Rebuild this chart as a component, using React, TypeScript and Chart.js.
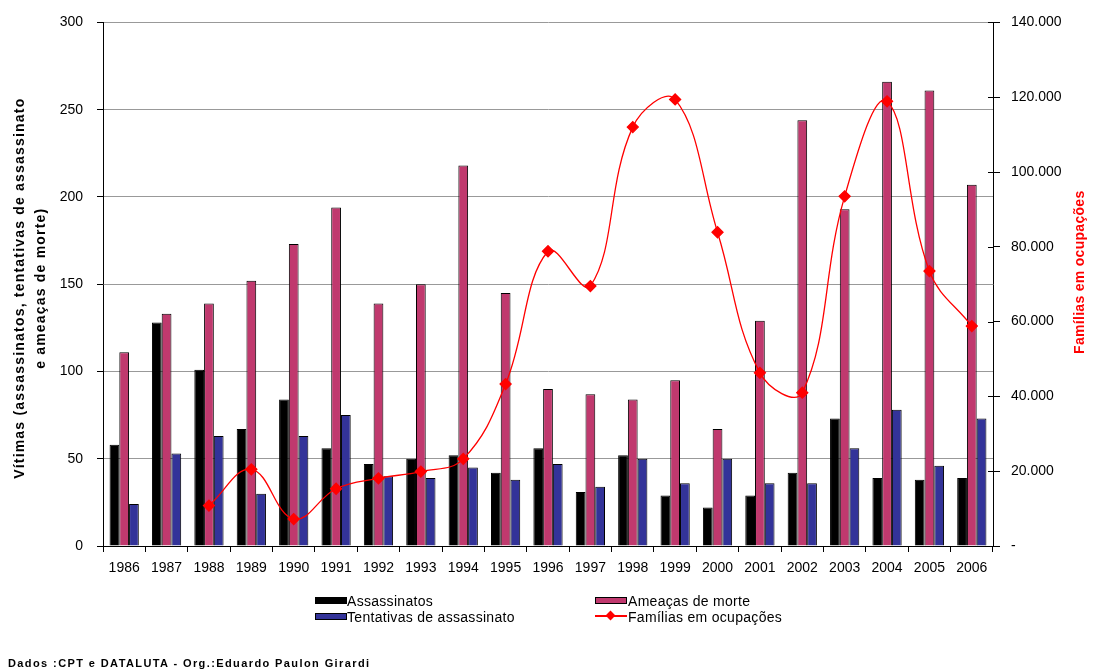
import React, { useEffect, useRef } from 'react';
import { Chart, registerables } from 'chart.js';

Chart.register(...registerables);

const years = ['1986','1987','1988','1989','1990','1991','1992','1993','1994','1995','1996','1997','1998','1999','2000','2001','2002','2003','2004','2005','2006'];
const assassinatos = [58,128,101,67,84,56,47,50,52,42,56,31,52,29,22,29,42,73,39,38,39];
const ameacas = [111,133,139,152,173,194,139,150,218,145,90,87,84,95,67,129,244,193,266,261,207];
const tentativas = [24,53,63,30,63,75,40,39,45,38,47,34,50,36,50,36,36,56,78,46,73];
const familias = [null,null,10800,20500,7200,15300,18100,19900,23300,43300,78800,69500,112000,119400,83900,46300,41000,93500,118900,73500,58800];

const leftTitle = ['Vítimas (assassinatos, tentativas de assassinato', 'e ameaças de morte)'];
const rightTitleText = 'Famílias em ocupações';
const legendItems = ['Assassinatos', 'Ameaças de morte', 'Tentativas de assassinato', 'Famílias em ocupações'];
const sourceText = 'Dados :CPT e DATALUTA - Org.:Eduardo Paulon Girardi';

const FONT = '"Liberation Sans", Arial, sans-serif';
const BLACK = '#000000';
const PINK = '#C0396E';
const BLUE = '#333399';
const RED = '#FF0000';

function fmtThousands(v: number): string {
  if (v === 0) return '-';
  return String(v).replace(/\B(?=(\d{3})+(?!\d))/g, '.');
}

const titlesPlugin = {
  id: 'titlesPlugin',
  afterDraw(chart: any) {
    const ctx = chart.ctx;
    const y1 = chart.scales.y1;
    const area = chart.chartArea;
    const midY = (area.top + area.bottom) / 2;
    // right axis title (reads bottom to top)
    ctx.save();
    ctx.translate(y1.right - 17, midY - 12);
    ctx.rotate(-Math.PI / 2);
    ctx.font = 'bold 14px ' + FONT;
    (ctx as any).letterSpacing = '0.3px';
    ctx.fillStyle = RED;
    ctx.textAlign = 'center';
    ctx.textBaseline = 'middle';
    ctx.fillText(rightTitleText, 0, 0);
    ctx.restore();
    // left axis title, two lines
    ctx.save();
    ctx.font = 'bold 14px ' + FONT;
    (ctx as any).letterSpacing = '1.2px';
    ctx.fillStyle = BLACK;
    ctx.textAlign = 'center';
    ctx.textBaseline = 'middle';
    leftTitle.forEach((line, i) => {
      ctx.save();
      ctx.translate(20 + i * 21, midY + 4);
      ctx.rotate(-Math.PI / 2);
      ctx.fillText(line, 0, 0);
      ctx.restore();
    });
    ctx.restore();
    // inward half of right-axis tick marks
    ctx.save();
    ctx.strokeStyle = BLACK;
    ctx.lineWidth = 1;
    y1.ticks.forEach((t: any) => {
      const py = Math.round(y1.getPixelForValue(t.value)) + 0.5;
      ctx.beginPath();
      ctx.moveTo(y1.left - 5, py);
      ctx.lineTo(y1.left, py);
      ctx.stroke();
    });
    ctx.restore();
  },
};

export default function App() {
  const ref = useRef<HTMLCanvasElement | null>(null);

  useEffect(() => {
    document.body.style.margin = '0';
    if (!ref.current) return;
    const chart = new Chart(ref.current, {
      type: 'bar',
      data: {
        labels: years,
        datasets: [
          { type: 'line', label: legendItems[3], data: familias as any, yAxisID: 'y1', borderColor: RED, backgroundColor: RED, borderWidth: 1.3, tension: 0.4, pointStyle: 'rectRot', pointRadius: 5.5, pointBackgroundColor: RED, pointBorderColor: RED, order: 0 } as any,
          { label: legendItems[0], data: assassinatos, backgroundColor: BLACK, borderColor: BLACK, borderWidth: 1, yAxisID: 'y', order: 1 },
          { label: legendItems[1], data: ameacas, backgroundColor: PINK, borderColor: BLACK, borderWidth: 1, yAxisID: 'y', order: 1 },
          { label: legendItems[2], data: tentativas, backgroundColor: BLUE, borderColor: BLACK, borderWidth: 1, yAxisID: 'y', order: 1 },
        ],
      },
      options: {
        responsive: false,
        animation: false,
        maintainAspectRatio: false,
        layout: { padding: { top: 22, left: 0, right: 0, bottom: 0 } },
        datasets: { bar: { categoryPercentage: 0.69, barPercentage: 1.0 } },
        plugins: { legend: { display: false }, tooltip: { enabled: false } },
        scales: {
          x: {
            offset: true,
            grid: { display: true, offset: true, drawOnChartArea: false, drawTicks: true, tickLength: 6, color: BLACK, tickColor: BLACK },
            border: { display: true, color: BLACK, width: 1 },
            ticks: { color: BLACK, font: { family: FONT, size: 14 }, maxRotation: 0, autoSkip: false, padding: 8 },
            afterFit: (s: any) => { s.height = 124; },
          },
          y: {
            position: 'left',
            min: 0,
            max: 300,
            ticks: { stepSize: 50, color: BLACK, font: { family: FONT, size: 14 }, padding: 14 },
            grid: { color: '#999999', tickColor: BLACK, tickLength: 6, lineWidth: 1 },
            border: { display: true, color: BLACK, width: 1 },
            afterFit: (s: any) => { s.width = 103; },
          },
          y1: {
            position: 'right',
            min: 0,
            max: 140000,
            ticks: { stepSize: 20000, color: BLACK, font: { family: FONT, size: 14 }, padding: 11, callback: (v: any) => fmtThousands(Number(v)) },
            grid: { drawOnChartArea: false, tickColor: BLACK, tickLength: 7 },
            border: { display: true, color: BLACK, width: 1 },
            afterFit: (s: any) => { s.width = 104; },
          },
        },
      },
      plugins: [titlesPlugin],
    } as any);
    return () => chart.destroy();
  }, []);

  const legendText: React.CSSProperties = { position: 'absolute', fontFamily: FONT, fontSize: 14, letterSpacing: '0.3px', color: BLACK, lineHeight: '16px', whiteSpace: 'nowrap' };
  const swatch = (left: number, top: number, color: string): React.CSSProperties => ({ position: 'absolute', left, top, width: 30, height: 5, background: color, border: '1px solid #000' });

  return (
    <div style={{ position: 'relative', width: 1097, height: 670, background: '#fff', overflow: 'hidden' }}>
      <canvas ref={ref} width={1097} height={670} style={{ position: 'absolute', left: 0, top: 0, width: 1097, height: 670 }} />
      <div style={swatch(315, 597, BLACK)} />
      <div style={{ ...legendText, left: 347, top: 593 }}>{legendItems[0]}</div>
      <div style={swatch(595, 597, PINK)} />
      <div style={{ ...legendText, left: 628, top: 593 }}>{legendItems[1]}</div>
      <div style={swatch(315, 613, BLUE)} />
      <div style={{ ...legendText, left: 347, top: 609 }}>{legendItems[2]}</div>
      <div style={{ position: 'absolute', left: 595, top: 615, width: 32, height: 2, background: RED }} />
      <div style={{ position: 'absolute', left: 607, top: 612, width: 7, height: 7, background: RED, transform: 'rotate(45deg)' }} />
      <div style={{ ...legendText, left: 628, top: 609 }}>{legendItems[3]}</div>
      <div style={{ position: 'absolute', left: 8, top: 657, fontFamily: FONT, fontSize: 11, fontWeight: 'bold', letterSpacing: '1.4px', color: BLACK, whiteSpace: 'nowrap', lineHeight: '13px' }}>{sourceText}</div>
    </div>
  );
}
